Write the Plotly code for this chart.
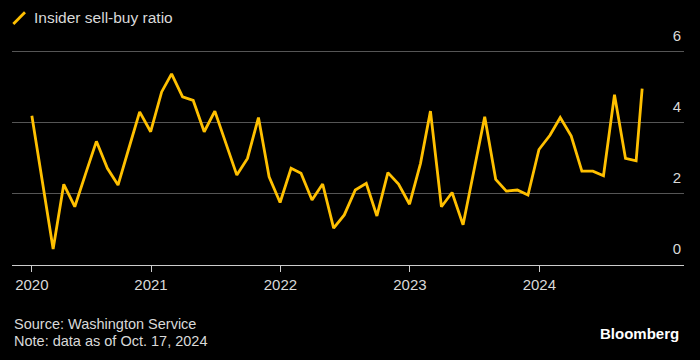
import plotly.graph_objects as go

dates = [
    "2020-01-31", "2020-02-29", "2020-03-31", "2020-04-30", "2020-05-31", "2020-06-30",
    "2020-07-31", "2020-08-31", "2020-09-30", "2020-10-31", "2020-11-30", "2020-12-31",
    "2021-01-31", "2021-02-28", "2021-03-31", "2021-04-30", "2021-05-31", "2021-06-30",
    "2021-07-31", "2021-08-31", "2021-09-30", "2021-10-31", "2021-11-30", "2021-12-31",
    "2022-01-31", "2022-02-28", "2022-03-31", "2022-04-30", "2022-05-31", "2022-06-30",
    "2022-07-31", "2022-08-31", "2022-09-30", "2022-10-31", "2022-11-30", "2022-12-31",
    "2023-01-31", "2023-02-28", "2023-03-31", "2023-04-30", "2023-05-31", "2023-06-30",
    "2023-07-31", "2023-08-31", "2023-09-30", "2023-10-31", "2023-11-30", "2023-12-31",
    "2024-01-31", "2024-02-29", "2024-03-31", "2024-04-30", "2024-05-31", "2024-06-30",
    "2024-07-31", "2024-08-31", "2024-09-30", "2024-10-17",
]

sell_buy_ratio = [
    4.20, 2.40, 0.45, 2.27, 1.64, 2.55, 3.48, 2.72, 2.25, 3.30, 4.31, 3.75,
    4.87, 5.38, 4.73, 4.63, 3.75, 4.33, 3.45, 2.53, 3.00, 4.15, 2.48, 1.76,
    2.72, 2.58, 1.83, 2.28, 1.04, 1.41, 2.11, 2.30, 1.38, 2.60, 2.28, 1.71,
    2.86, 4.33, 1.64, 2.04, 1.13, 2.60, 4.17, 2.41, 2.08, 2.11, 1.97, 3.25,
    3.65, 4.15, 3.63, 2.64, 2.64, 2.51, 4.79, 3.00, 2.93, 4.96,
]

x_tick_vals = ["2020-01-31", "2021-01-01", "2022-01-01", "2023-01-01", "2024-01-01"]
x_tick_text = ["2020", "2021", "2022", "2023", "2024"]
y_tick_vals = [0, 2, 4, 6]

series_name = "Insider sell-buy ratio"
source_text = "Source: Washington Service"
note_text = "Note: data as of Oct. 17, 2024"
brand_text = "Bloomberg"

LINE_COLOR = "#FFC000"
TEXT_COLOR = "#D9D9D9"
FONT = "Liberation Sans, Arial, sans-serif"

fig = go.Figure()
fig.add_trace(go.Scatter(
    x=dates, y=sell_buy_ratio, mode="lines", name=series_name,
    line=dict(color=LINE_COLOR, width=2.8), showlegend=False,
))

fig.update_layout(
    width=700, height=360,
    paper_bgcolor="#000000", plot_bgcolor="#000000",
    margin=dict(l=12, r=16, t=23, b=95, autoexpand=False),
    font=dict(family=FONT, color=TEXT_COLOR, size=14),
    xaxis=dict(
        type="date",
        range=["2019-12-06", "2025-02-12"],
        tickvals=x_tick_vals, ticktext=x_tick_text,
        showgrid=False, zeroline=False, automargin=False,
        showline=True, linecolor="#CCCCCC", linewidth=1,
        ticks="outside", ticklen=6, tickcolor="#CCCCCC", tickwidth=1,
        tickfont=dict(size=15, color=TEXT_COLOR),
    ),
    yaxis=dict(
        range=[0, 6.81],
        side="right",
        tickvals=y_tick_vals,
        ticklabelposition="inside top",
        ticklabelshift=-6,
        automargin=False,
        showgrid=True, gridcolor="#555555", gridwidth=1,
        zeroline=False, showline=False, ticks="",
        tickfont=dict(size=15, color=TEXT_COLOR),
    ),
    shapes=[dict(
        type="line", xref="paper", yref="paper",
        x0=0.002, y0=0.9959, x1=0.0193, y1=1.0442,
        line=dict(color=LINE_COLOR, width=2.8),
    )],
    annotations=[
        dict(text=series_name, xref="paper", yref="paper", x=0.0305, y=1.0207,
             xanchor="left", yanchor="middle", showarrow=False,
             font=dict(size=15.5, color=TEXT_COLOR)),
        dict(text=source_text, xref="paper", yref="paper", x=0.0, y=-0.2438,
             xanchor="left", yanchor="middle", showarrow=False,
             font=dict(size=14.5, color=TEXT_COLOR)),
        dict(text=note_text, xref="paper", yref="paper", x=0.0, y=-0.314,
             xanchor="left", yanchor="middle", showarrow=False,
             font=dict(size=14.5, color=TEXT_COLOR)),
        dict(text="<b>" + brand_text + "</b>", xref="paper", yref="paper", x=0.9955, y=-0.281,
             xanchor="right", yanchor="middle", showarrow=False,
             font=dict(size=15, color="#FFFFFF")),
    ],
)

fig.write_html(
    "out.html",
    config={"displayModeBar": False},
    post_script="document.body.style.margin='0';document.body.style.overflow='hidden';"
                "document.body.style.background='#000';",
)
